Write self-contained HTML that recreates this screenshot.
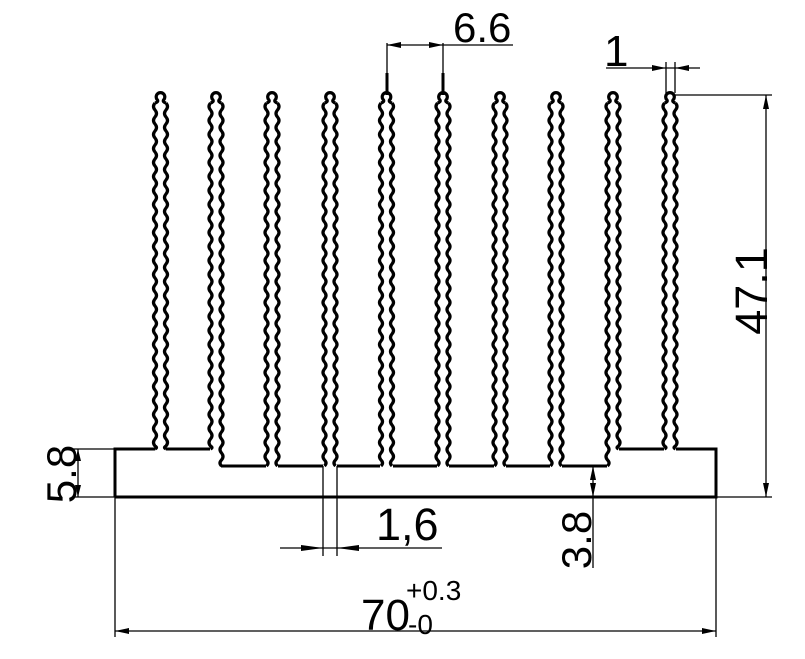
<!DOCTYPE html>
<html><head><meta charset="utf-8"><style>
html,body{margin:0;padding:0;background:#fff;}
svg{display:block;}
text{font-family:"Liberation Sans",sans-serif;fill:#000;}
</style></head><body>
<svg id="s" width="805" height="659" viewBox="0 0 805 659" xmlns="http://www.w3.org/2000/svg">
<g id="fins" fill="none" stroke="#000" stroke-width="3.2" stroke-linejoin="round"></g>
<g fill="none" stroke="#000" stroke-width="1.3">
<line x1="387" y1="43" x2="387" y2="95"/><line x1="443" y1="43" x2="443" y2="95"/>
<line x1="387" y1="45" x2="513" y2="45"/>
<line x1="666" y1="62" x2="666" y2="93"/><line x1="675" y1="62" x2="675" y2="93"/>
<line x1="606" y1="68" x2="700" y2="68"/>
<line x1="675" y1="95" x2="772" y2="95"/><line x1="716" y1="497" x2="772" y2="497"/>
<line x1="766" y1="95" x2="766" y2="497"/>
<line x1="72" y1="449" x2="115" y2="449"/><line x1="72" y1="497" x2="115" y2="497"/>
<line x1="78" y1="449" x2="78" y2="497"/>
<line x1="323" y1="466" x2="323" y2="556"/><line x1="337" y1="466" x2="337" y2="556"/>
<line x1="280" y1="548" x2="442" y2="548"/>
<line x1="593" y1="466" x2="593" y2="568"/>
<line x1="115" y1="497" x2="115" y2="637"/><line x1="716" y1="497" x2="716" y2="637"/>
<line x1="115" y1="631" x2="716" y2="631"/>
<line x1="387" y1="73" x2="387" y2="95" stroke-width="3"/><line x1="443" y1="73" x2="443" y2="95" stroke-width="3"/>
</g>
<g fill="#000">
<polygon points="387,45 401,42 401,48"/><polygon points="443,45 429,42 429,48"/>
<polygon points="666,68 652,65 652,71"/><polygon points="675,68 689,65 689,71"/>
<polygon points="766,95 763,109 769,109"/><polygon points="766,497 763,483 769,483"/>
<polygon points="78,449 75,461 81,461"/><polygon points="78,497 75,485 81,485"/>
<polygon points="323,548 301,545 301,551"/><polygon points="337,548 359,545 359,551"/>
<polygon points="593,466 590,480 596,480"/><polygon points="593,497 590,483 596,483"/>
<polygon points="115,631 129,628 129,634"/><polygon points="716,631 702,628 702,634"/>
</g>
<text x="453" y="42" font-size="42">6.6</text>
<text x="604" y="66" font-size="44">1</text>
<text x="376" y="540" font-size="45">1,6</text>
<text x="361" y="630" font-size="44">70</text>
<text x="408" y="634" font-size="28">-0</text>
<text x="406" y="600" font-size="28">+0.3</text>
<text transform="translate(767,291) rotate(-90)" font-size="45" text-anchor="middle">47.1</text>
<text transform="translate(76,474) rotate(-90)" font-size="42" text-anchor="middle">5.8</text>
<text transform="translate(591,540) rotate(-90)" font-size="42" text-anchor="middle">3.8</text>
<path d="M115 497 L115 449 L155 449 M166 449 L210 449 M221 466 L266 466 M278 466 L323 466 M337 466 L380 466 M393 466 L437 466 M449 466 L494 466 M506 466 L550 466 M562 466 L607 466 M619 449 L664 449 M676 449 L716 449 L716 497 L115 497" fill="none" stroke="#000" stroke-width="3" stroke-linejoin="miter"/>
</svg>
<script>
var cs=[160.5,216,272,330,386.5,443,500,556,613,670];
var g=document.getElementById('fins');
function wavy(x,y0,y1,dir){
 var d='',y=y0,i=0;
 d+='M'+x+' '+y0;
 while(y<y1){var ny=Math.min(y+7,y1);d+=' Q'+(x+dir*3*(i%2?1:-1))+' '+((y+ny)/2)+' '+x+' '+ny;y=ny;i++;}
 return d;
}
var h='';
cs.forEach(function(c,k){
 var ly=(k<=1||k==9)?449:466;
 var ry=(k==0||k>=8)?449:466;
 var L=c-5.5,R=c+5.5;
 h+='<path d="'+wavy(L,103,ly,1)+'"/>';
 h+='<path d="'+wavy(R,103,ry,-1)+'"/>';
 h+='<path d="M'+L+' 103 Q'+(c-2)+' 102 '+(c-3)+' 100 A4.3 4.3 0 1 1 '+(c+3)+' 100 Q'+(c+2)+' 102 '+R+' 103"/>';
});
g.innerHTML=h;
</script>
</body></html>
